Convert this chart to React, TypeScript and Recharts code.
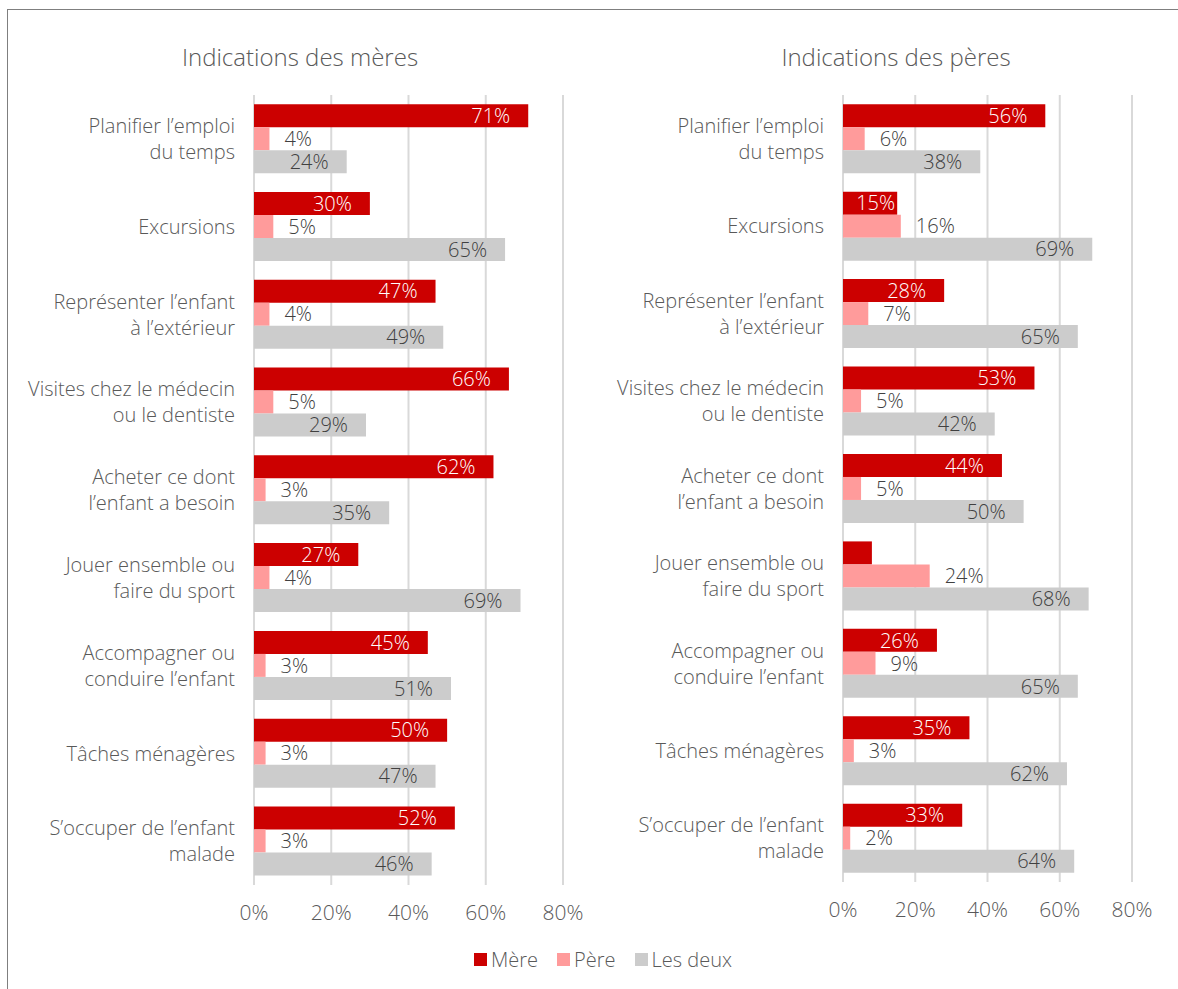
import { BarChart, Bar, XAxis, YAxis, CartesianGrid, LabelList } from "recharts";

const categories = [
  "Planifier l’emploi\ndu temps",
  "Excursions",
  "Représenter l’enfant\nà l’extérieur",
  "Visites chez le médecin\nou le dentiste",
  "Acheter ce dont\nl’enfant a besoin",
  "Jouer ensemble ou\nfaire du sport",
  "Accompagner ou\nconduire l’enfant",
  "Tâches ménagères",
  "S’occuper de l’enfant\nmalade",
];

// Indications des mères
const meresMere = [71, 30, 47, 66, 62, 27, 45, 50, 52];
const meresPere = [4, 5, 4, 5, 3, 4, 3, 3, 3];
const meresDeux = [24, 65, 49, 29, 35, 69, 51, 47, 46];

// Indications des pères
const peresMere = [56, 15, 28, 53, 44, 8, 26, 35, 33];
const peresPere = [6, 16, 7, 5, 5, 24, 9, 3, 2];
const peresDeux = [38, 69, 65, 42, 50, 68, 65, 62, 64];

const xTicks = [0, 20, 40, 60, 80];
const seriesNames = ["Mère", "Père", "Les deux"];

const RED = "#cc0000";
const PINK = "#ff9b9b";
const GREY = "#cccccc";
const TEXT = "#595959";
const FONT = "'Open Sans', 'Noto Sans', sans-serif";

const buildRows = (mere: number[], pere: number[], deux: number[]) =>
  categories.map((cat, i) => ({ cat, mere: mere[i], pere: pere[i], deux: deux[i] }));

const textWidth = (v: number) => String(v).length * 11.5 + 18;

const insideLabel = (color: string) => (props: any) => {
  const { x, y, width, height, value } = props;
  const tw = textWidth(value);
  if (width < tw + 4) return null;
  let end = x + width - 18;
  if (end - tw < x + 4) end = x + width - 2;
  return (
    <text x={end} y={y + height / 2} dy="0.36em" textAnchor="end" fill={color}
      fontSize={20} fontFamily={FONT} fontWeight={300}>
      {value}%
    </text>
  );
};

const outsideLabel = (props: any) => {
  const { x, y, width, height, value } = props;
  return (
    <text x={x + width + 15} y={y + height / 2} dy="0.36em" textAnchor="start" fill="#404040"
      fontSize={20} fontFamily={FONT} fontWeight={300}>
      {value}%
    </text>
  );
};

const CategoryTick = (props: any) => {
  const { x, y, payload } = props;
  const lines = String(payload.value).split("\n");
  const lh = 26;
  return (
    <text x={x} y={y} textAnchor="end" fill={TEXT} fontSize={20} fontFamily={FONT} fontWeight={300}>
      {lines.map((l, i) => (
        <tspan key={i} x={x} y={y - ((lines.length - 1) * lh) / 2 + i * lh} dy="0.36em">
          {l}
        </tspan>
      ))}
    </text>
  );
};

interface PanelProps {
  title: string;
  titleCenter: number;
  rows: any[];
  left: number;
  width: number;
  yAxisWidth: number;
  marginRight: number;
  plotTop: number;
  plotBottom: number;
}

function Panel({ title, titleCenter, rows, left, width, yAxisWidth, marginRight, plotTop, plotBottom }: PanelProps) {
  const height = plotBottom + 50;
  return (
    <div style={{ position: "absolute", left, top: 0, width, height }}>
      <div
        style={{
          position: "absolute",
          top: 40,
          left: titleCenter - 200,
          width: 400,
          textAlign: "center",
          fontFamily: FONT,
          fontWeight: 300,
          fontSize: 24,
          color: TEXT,
        }}
      >
        {title}
      </div>
      <BarChart
        layout="vertical"
        width={width}
        height={height}
        data={rows}
        margin={{ top: plotTop, right: marginRight, bottom: 10, left: 0 }}
        barCategoryGap="10.5%"
        barGap={0}
      >
        <CartesianGrid horizontal={false} vertical stroke="#d9d9d9" strokeWidth={2} />
        <XAxis
          type="number"
          domain={[0, 80]}
          ticks={xTicks}
          interval={0}
          axisLine={false}
          tickLine={false}
          tickSize={0}
          tickMargin={20}
          height={40}
          tickFormatter={(v) => `${v}%`}
          tick={{ fill: TEXT, fontSize: 21, fontFamily: FONT, fontWeight: 300 }}
        />
        <YAxis
          type="category"
          dataKey="cat"
          width={yAxisWidth}
          axisLine={false}
          tickLine={false}
          tickSize={0}
          tickMargin={19}
          interval={0}
          tick={<CategoryTick />}
        />
        <Bar dataKey="mere" name={seriesNames[0]} fill={RED} isAnimationActive={false}>
          <LabelList dataKey="mere" content={insideLabel("#ffffff")} />
        </Bar>
        <Bar dataKey="pere" name={seriesNames[1]} fill={PINK} isAnimationActive={false}>
          <LabelList dataKey="pere" content={outsideLabel} />
        </Bar>
        <Bar dataKey="deux" name={seriesNames[2]} fill={GREY} isAnimationActive={false}>
          <LabelList dataKey="deux" content={insideLabel("#404040")} />
        </Bar>
      </BarChart>
    </div>
  );
}

const legendColors = [RED, PINK, GREY];

export default function App() {
  return (
    <div
      style={{
        position: "absolute",
        left: 0,
        top: 0,
        width: 1178,
        height: 989,
        overflow: "hidden",
        background: "#ffffff",
      }}
    >
      <div
        style={{
          position: "absolute",
          left: 7,
          top: 9,
          width: 1300,
          height: 1100,
          border: "1px solid #7f7f7f",
        }}
      />
      <Panel
        title="Indications des mères"
        titleCenter={300}
        rows={buildRows(meresMere, meresPere, meresDeux)}
        left={0}
        width={600}
        yAxisWidth={254}
        marginRight={37}
        plotTop={95}
        plotBottom={885}
      />
      <Panel
        title="Indications des pères"
        titleCenter={296}
        rows={buildRows(peresMere, peresPere, peresDeux)}
        left={600}
        width={578}
        yAxisWidth={243}
        marginRight={46}
        plotTop={95}
        plotBottom={882}
      />
      <div
        style={{
          position: "absolute",
          top: 946,
          left: 474,
          display: "flex",
          alignItems: "center",
          fontFamily: FONT,
          fontWeight: 300,
          fontSize: 20,
          color: TEXT,
        }}
      >
        {seriesNames.map((n, i) => (
          <div key={n} style={{ display: "flex", alignItems: "center", marginRight: 19 }}>
            <div style={{ width: 13, height: 13, background: legendColors[i], marginRight: 4 }} />
            <span>{n}</span>
          </div>
        ))}
      </div>
    </div>
  );
}
